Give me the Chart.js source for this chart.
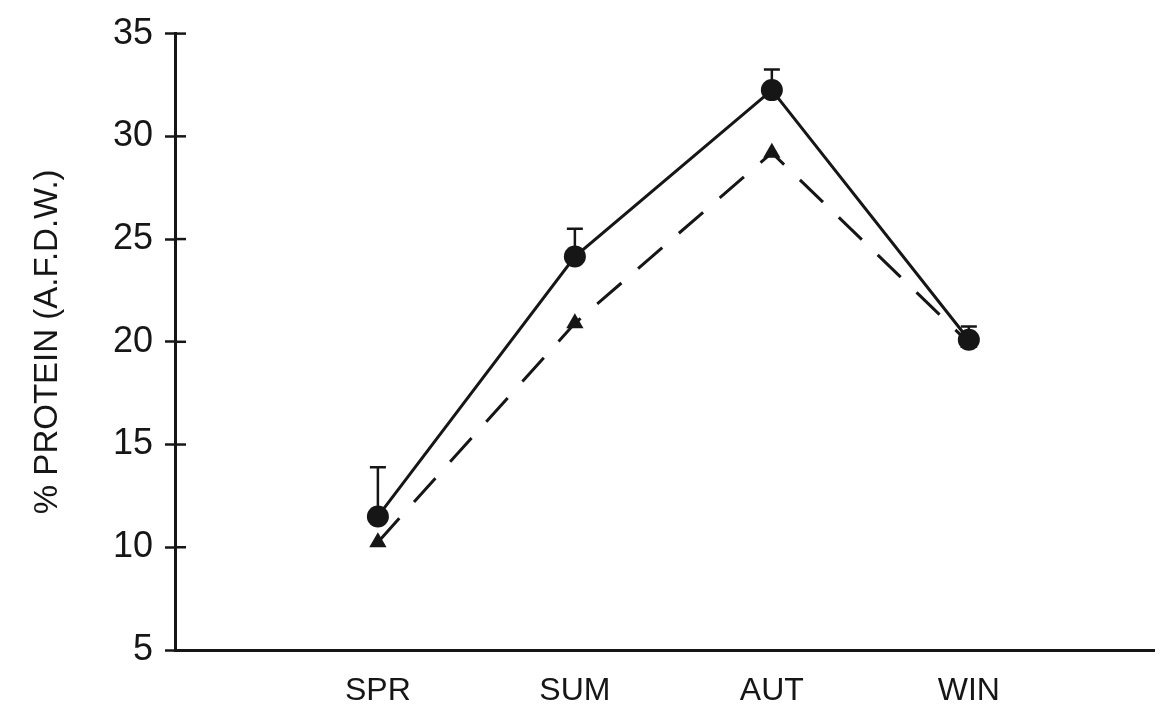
<!DOCTYPE html>
<html>
<head>
<meta charset="utf-8">
<script src="https://cdn.jsdelivr.net/npm/chart.js@4/dist/chart.umd.min.js"></script>
<style>
    html, body { margin: 0; padding: 0; background: #fff; }
    #wrap { width: 1165px; height: 706px; position: relative; }
</style>
</head>
<body>
<div id="wrap"><canvas id="protein-chart"></canvas></div>
<script>
// Seasonal protein content, % of ash-free dry weight

const seasons = ['SPR', 'SUM', 'AUT', 'WIN'];
const seasonPos = [1, 2, 3, 4];

// solid line with filled circles, upper error bars
const circleValues = [11.5, 24.15, 32.25, 20.1];
const circleUpper = [13.9, 25.5, 33.25, 20.75];

// dashed line with triangles
const triangleValues = [10.25, 20.9, 29.2, 19.95];

const yTicks = [5, 10, 15, 20, 25, 30, 35];

const INK = '#161616';

const toPoints = vals => vals.map((v, i) => ({ x: seasonPos[i], y: v }));

// upper error bars and the little ticks poking right of the y axis
const extrasPlugin = {
    id: 'extras',
    afterDatasetsDraw(chart) {
        const ctx = chart.ctx;
        const xs = chart.scales.x;
        const ys = chart.scales.y;
        ctx.save();
        ctx.strokeStyle = INK;
        ctx.lineWidth = 2.5;
        circleValues.forEach((v, i) => {
            const px = xs.getPixelForValue(seasonPos[i]);
            const py = ys.getPixelForValue(v);
            const top = ys.getPixelForValue(circleUpper[i]);
            ctx.beginPath();
            ctx.moveTo(px, py);
            ctx.lineTo(px, top);
            ctx.moveTo(px - 8, top);
            ctx.lineTo(px + 8, top);
            ctx.stroke();
        });
        const ax = chart.chartArea.left;
        yTicks.forEach(t => {
            if (t === yTicks[0]) return;
            const py = ys.getPixelForValue(t);
            ctx.beginPath();
            ctx.moveTo(ax, py);
            ctx.lineTo(ax + 11, py);
            ctx.stroke();
        });
        ctx.restore();
    }
};

const ctx = document.getElementById('protein-chart');

new Chart(ctx, {
    type: 'line',
    data: {
        datasets: [
            {
                label: 'circles',
                data: toPoints(circleValues),
                borderColor: INK,
                borderWidth: 3,
                backgroundColor: INK,
                pointStyle: 'circle',
                pointRadius: 11,
                pointBackgroundColor: INK,
                pointBorderWidth: 0,
                tension: 0,
                order: 1
            },
            {
                label: 'triangles',
                data: toPoints(triangleValues),
                borderColor: INK,
                borderWidth: 3,
                borderDash: [32, 22],
                backgroundColor: INK,
                pointStyle: 'triangle',
                pointRadius: 10,
                pointBackgroundColor: INK,
                pointBorderWidth: 0,
                tension: 0,
                order: 2
            }
        ]
    },
    options: {
        responsive: true,
        maintainAspectRatio: false,
        animation: false,
        devicePixelRatio: 1,
        layout: { padding: { top: 31, right: 0, bottom: 0, left: 0 } },
        plugins: {
            legend: { display: false },
            tooltip: { enabled: false }
        },
        scales: {
            x: {
                type: 'linear',
                min: -0.03,
                max: 4.94,
                afterBuildTicks: scale => {
                    scale.ticks = seasonPos.map(v => ({ value: v }));
                },
                afterFit: scale => { scale.height = 56; },
                grid: { display: false, drawTicks: false },
                border: { display: true, color: INK, width: 3 },
                ticks: {
                    autoSkip: false,
                    maxRotation: 0,
                    padding: 22,
                    color: INK,
                    font: { family: "'Liberation Sans', Arial, sans-serif", size: 32 },
                    callback: v => seasons[seasonPos.indexOf(v)] || ''
                }
            },
            y: {
                min: 5,
                max: 35,
                afterBuildTicks: scale => {
                    scale.ticks = yTicks.map(v => ({ value: v }));
                },
                afterFit: scale => { scale.width = 175; },
                grid: {
                    drawOnChartArea: false,
                    drawTicks: true,
                    tickLength: 10,
                    tickWidth: 2.5,
                    tickColor: INK
                },
                border: { display: true, color: INK, width: 3 },
                ticks: {
                    padding: 12,
                    color: INK,
                    font: { family: "'Liberation Sans', Arial, sans-serif", size: 36 }
                },
                title: {
                    display: true,
                    text: '% PROTEIN (A.F.D.W.)',
                    color: INK,
                    padding: { top: 28, bottom: 0 },
                    font: { family: "'Liberation Sans', Arial, sans-serif", size: 33 }
                }
            }
        }
    },
    plugins: [extrasPlugin]
});
</script>
</body>
</html>
